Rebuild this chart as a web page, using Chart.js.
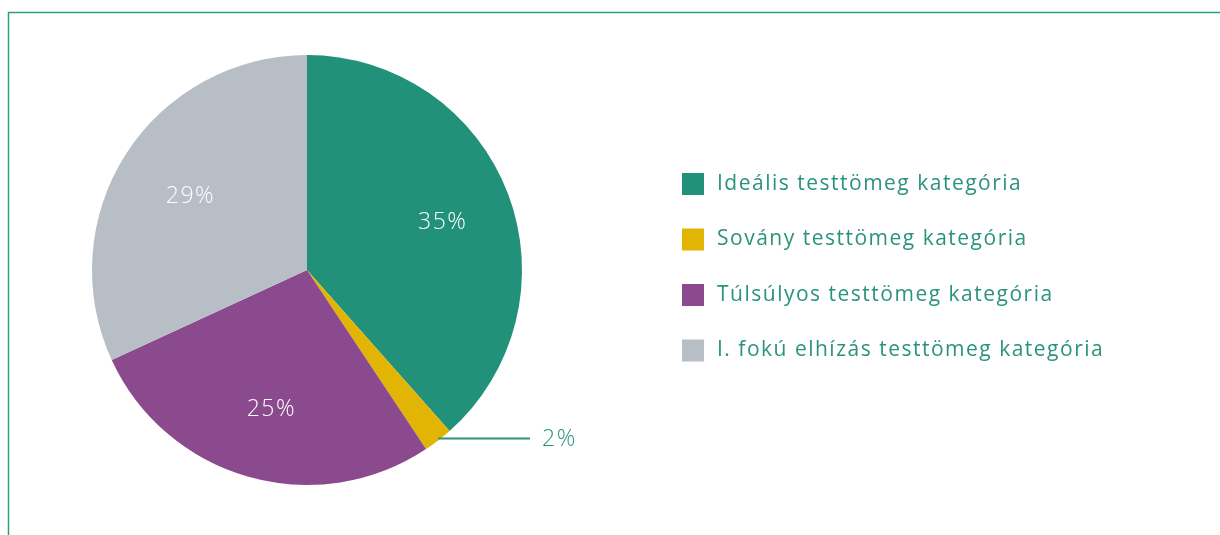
<!DOCTYPE html>
<html lang="hu">
<head>
    <meta charset="UTF-8">
    <title>Testtömeg kategóriák</title>
    <script src="https://cdn.jsdelivr.net/npm/chart.js"></script>
    <style>
        html, body { margin: 0; padding: 0; background: #fff; }
        #wrap { width: 1220px; height: 535px; position: relative; }
    </style>
</head>
<body>
    <div id="wrap"><canvas id="pieChart" width="1220" height="535"></canvas></div>

    <script>
    // data
    const categories = [
        'Ideális testtömeg kategória',
        'Sovány testtömeg kategória',
        'Túlsúlyos testtömeg kategória',
        'I. fokú elhízás testtömeg kategória'
    ];
    const shares = [35, 2, 25, 29];
    const sliceColors = ['#22917a', '#e2b504', '#8b4a8e', '#b8bec6'];
    const textTeal = '#2a937c';
    const fontFamily = '"Open Sans", Lato, sans-serif';

    // frame, percent labels, leader line and legend
    const decorations = {
        id: 'decorations',
        afterDraw(chart) {
            const ctx = chart.ctx;
            const arcs = chart.getDatasetMeta(0).data;

            ctx.save();
            // thin frame on top and left
            ctx.strokeStyle = '#2aa084';
            ctx.lineWidth = 1.5;
            ctx.beginPath();
            ctx.moveTo(8.5, 535);
            ctx.lineTo(8.5, 12.5);
            ctx.lineTo(1220, 12.5);
            ctx.stroke();

            ctx.font = '300 23px ' + fontFamily;
            ctx.letterSpacing = '1.5px';
            ctx.textBaseline = 'middle';

            arcs.forEach((arc, i) => {
                const mid = (arc.startAngle + arc.endAngle) / 2;
                const label = shares[i] + '%';
                if (shares[i] < 5) {
                    // small slice: leader line out to the right
                    const sx = arc.x + Math.cos(mid) * arc.outerRadius;
                    const sy = arc.y + Math.sin(mid) * arc.outerRadius;
                    ctx.strokeStyle = textTeal;
                    ctx.lineWidth = 2;
                    ctx.beginPath();
                    ctx.moveTo(sx, sy - 2);
                    ctx.lineTo(arc.x + 223, sy - 2);
                    ctx.stroke();
                    ctx.fillStyle = textTeal;
                    ctx.textAlign = 'left';
                    ctx.fillText(label, arc.x + 235, sy - 1);
                } else {
                    const r = arc.outerRadius * 0.66;
                    ctx.fillStyle = '#ffffff';
                    ctx.textAlign = 'center';
                    ctx.fillText(label, arc.x + Math.cos(mid) * r + 3, arc.y + Math.sin(mid) * r + 3);
                }
            });

            // legend
            ctx.font = '21px ' + fontFamily;
            ctx.letterSpacing = '1.5px';
            ctx.textAlign = 'left';
            categories.forEach((name, i) => {
                const y = 184 + i * 55.5;
                ctx.fillStyle = sliceColors[i];
                ctx.fillRect(682, y - 11, 22, 22);
                ctx.fillStyle = textTeal;
                ctx.fillText(name, 717, y);
            });
            ctx.restore();
        }
    };

    new Chart(document.getElementById('pieChart'), {
        type: 'pie',
        data: {
            labels: categories,
            datasets: [{
                data: shares,
                backgroundColor: sliceColors,
                borderWidth: 0
            }]
        },
        options: {
            responsive: false,
            animation: false,
            layout: { padding: { left: 92, right: 698, top: 55, bottom: 50 } },
            plugins: {
                legend: { display: false },
                tooltip: { enabled: false }
            }
        },
        plugins: [decorations]
    });
    </script>
</body>
</html>
